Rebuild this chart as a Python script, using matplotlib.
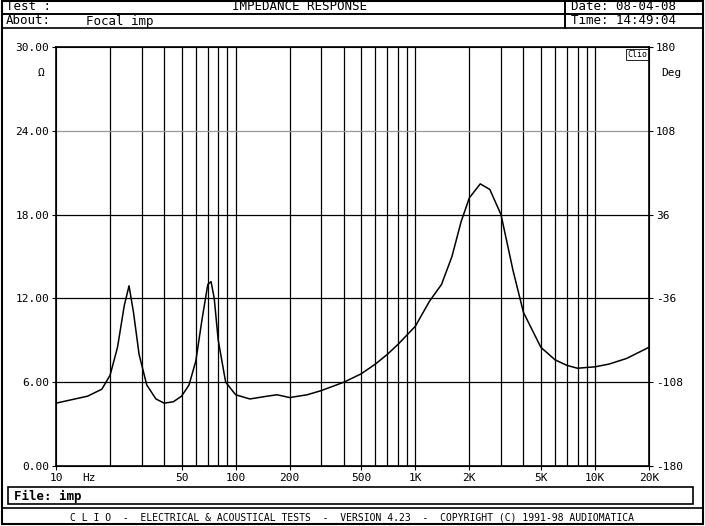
import matplotlib
matplotlib.use('Agg')
import matplotlib.pyplot as plt
from matplotlib.patches import Rectangle

# impedance curve (Hz, ohm)
freq = [10, 15, 18, 20, 22, 24, 25.5, 27, 29, 32, 36, 40, 45, 50, 55, 60, 65, 70, 73,
        76, 80, 88, 100, 120, 150, 170, 200, 250, 300, 400, 500, 600, 700, 800,
        1000, 1200, 1400, 1600, 1800, 2000, 2300, 2600, 3000, 3500, 4000, 5000,
        6000, 7000, 8000, 10000, 12000, 15000, 20000]
ohm = [4.5, 5.0, 5.5, 6.5, 8.5, 11.5, 12.9, 11.0, 8.0, 5.8, 4.8, 4.5, 4.6, 5.0, 5.8,
       7.5, 10.5, 13.0, 13.2, 12.0, 9.0, 6.0, 5.1, 4.8, 5.0, 5.1, 4.9, 5.1, 5.4,
       6.0, 6.6, 7.3, 8.0, 8.7, 10.0, 11.8, 13.0, 15.0, 17.5, 19.2, 20.2, 19.8,
       18.0, 14.0, 11.0, 8.5, 7.6, 7.2, 7.0, 7.1, 7.3, 7.7, 8.5]

grid_freqs = [20, 30, 40, 50, 60, 70, 80, 90, 100, 200, 300, 400, 500, 600, 700, 800,
              900, 1000, 2000, 3000, 4000, 5000, 6000, 7000, 8000, 9000, 10000]
xticks = [10, 50, 100, 200, 500, 1000, 2000, 5000, 10000, 20000]
xlabels = ['10', '50', '100', '200', '500', '1K', '2K', '5K', '10K', '20K']
yticks = [0, 6, 12, 18, 24, 30]
deg_labels = ['-180', '-108', '-36', '36', '108', '180']

mono = 'DejaVu Sans Mono'
fig = plt.figure(figsize=(7.05, 5.26), dpi=100)
fig.patch.set_facecolor('white')

# header / footer frames
def box(x0, y0, x1, y1, lw=1.2):
    fig.patches.append(Rectangle((x0 / 705, 1 - y1 / 526), (x1 - x0) / 705, (y1 - y0) / 526,
                                 transform=fig.transFigure, fill=False, lw=lw, color='black'))

box(2, 1, 703, 524, 1.5)
box(2, 1, 565, 14)
box(2, 14, 565, 28)
box(565, 1, 703, 14)
box(565, 14, 703, 28)
box(8, 487, 693, 504)
box(2, 508, 703, 524)

def ftxt(x, y, s, ha='left', size=9, weight='normal'):
    fig.text(x / 705, 1 - y / 526, s, ha=ha, va='center', fontsize=size,
             family=mono, weight=weight)

ftxt(6, 7, 'Test :')
ftxt(300, 7, 'IMPEDANCE RESPONSE', ha='center')
ftxt(571, 7, 'Date: 08-04-08')
ftxt(6, 21, 'About:')
ftxt(86, 21, 'Focal imp')
ftxt(571, 21, 'Time: 14:49:04')
ftxt(14, 496, 'File: imp', weight='bold')
ftxt(352, 517, 'C L I O  -  ELECTRICAL & ACOUSTICAL TESTS  -  VERSION 4.23  -  COPYRIGHT (C) 1991-98 AUDIOMATICA',
     ha='center', size=7)
ftxt(82, 478, 'Hz', size=8)

ax = fig.add_axes([56 / 705, 1 - 466 / 526, 593 / 705, 419 / 526])
ax.set_xscale('log')
ax.set_xlim(10, 20000)
ax.set_ylim(0, 30)
for f in grid_freqs:
    ax.axvline(f, color='black', lw=0.9)
for y in [6, 12, 18]:
    ax.axhline(y, color='black', lw=0.9)
ax.axhline(24, color='#999999', lw=0.9)
ax.plot(freq, ohm, color='black', lw=1.1)

ax.set_xticks(xticks)
ax.set_xticklabels(xlabels, family=mono, fontsize=8)
ax.minorticks_off()
ax.set_yticks(yticks)
ax.set_yticklabels(['%.2f' % v for v in yticks], family=mono, fontsize=8)
ax.tick_params(length=3, pad=2)
for s in ax.spines.values():
    s.set_linewidth(1.2)

ax2 = ax.twinx()
ax2.set_ylim(-180, 180)
ax2.set_yticks([-180, -108, -36, 36, 108, 180])
ax2.set_yticklabels(deg_labels, family=mono, fontsize=8)
ax2.tick_params(length=3, pad=2)

ax.text(-0.02, 0.93, 'Ω', transform=ax.transAxes, ha='right', fontsize=8, family=mono)
ax.text(1.02, 0.93, 'Deg', transform=ax.transAxes, ha='left', fontsize=8, family=mono)
ax.text(0.997, 0.993, 'Clio', transform=ax.transAxes, ha='right', va='top', fontsize=6,
        family=mono, bbox=dict(boxstyle='square,pad=0.1', fc='white', ec='black', lw=0.6))

fig.savefig('out.png', dpi=100)
